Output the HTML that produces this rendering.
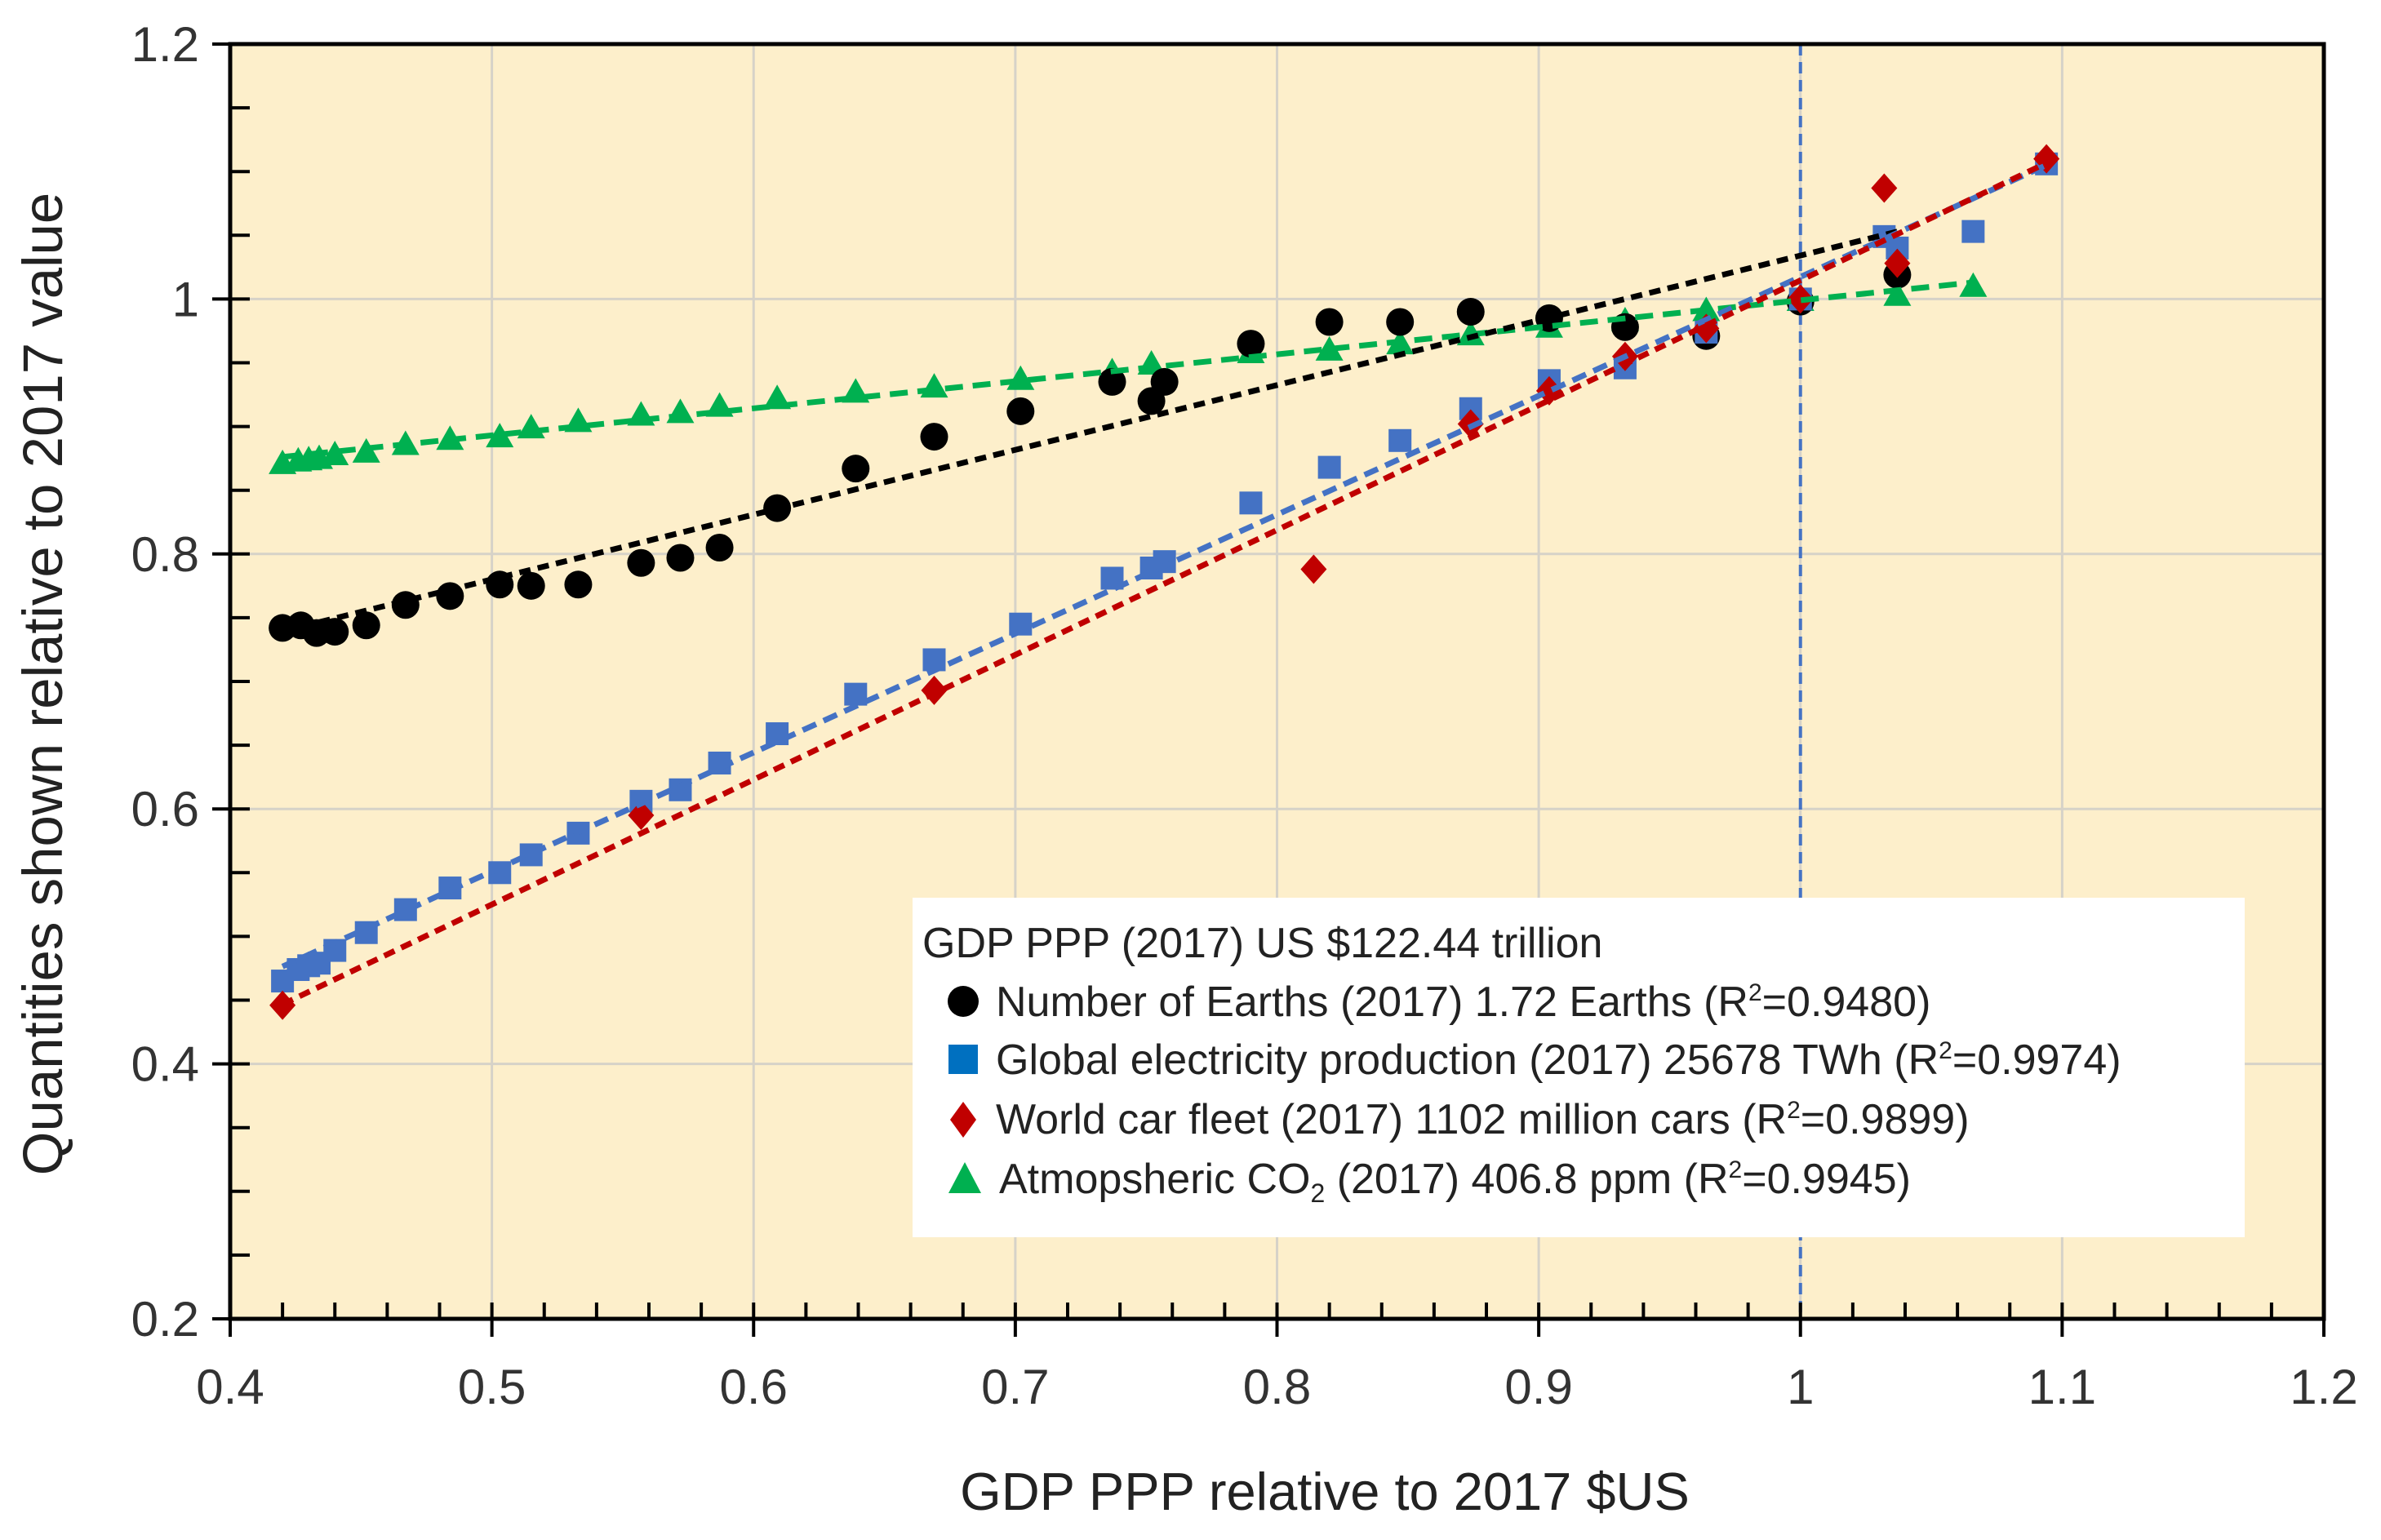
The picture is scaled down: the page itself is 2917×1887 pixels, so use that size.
<!DOCTYPE html>
<html><head><meta charset="utf-8"><style>
html,body{margin:0;padding:0;background:#fff;}
svg{display:block;font-family:"Liberation Sans",sans-serif;}
</style></head><body>
<svg id="chart" width="2917" height="1887" viewBox="0 0 2917 1887" xmlns="http://www.w3.org/2000/svg"></svg>
<script>
const xTicks=[0.4,0.5,0.6,0.7,0.8,0.9,1,1.1,1.2];
const xTickLabels=["0.4","0.5","0.6","0.7","0.8","0.9","1","1.1","1.2"];
const yTicks=[0.2,0.4,0.6,0.8,1,1.2];
const yTickLabels=["0.2","0.4","0.6","0.8","1","1.2"];
const earthsX=[0.420,0.427,0.433,0.440,0.452,0.467,0.484,0.503,0.515,0.533,0.557,0.572,0.587,0.609,0.639,0.669,0.702,0.737,0.752,0.757,0.790,0.820,0.847,0.874,0.904,0.933,0.964,1.000,1.037];
const earthsY=[0.742,0.744,0.738,0.739,0.744,0.760,0.767,0.776,0.775,0.776,0.793,0.797,0.805,0.836,0.867,0.892,0.912,0.935,0.920,0.935,0.965,0.982,0.982,0.990,0.985,0.978,0.971,0.998,1.019];
const elecX=[0.420,0.426,0.430,0.434,0.440,0.452,0.467,0.484,0.503,0.515,0.533,0.557,0.572,0.587,0.609,0.639,0.669,0.702,0.737,0.752,0.757,0.790,0.820,0.847,0.874,0.904,0.933,0.964,1.000,1.032,1.037,1.066,1.094];
const elecY=[0.465,0.474,0.477,0.479,0.489,0.503,0.521,0.538,0.550,0.564,0.581,0.606,0.615,0.636,0.659,0.690,0.717,0.745,0.781,0.789,0.794,0.840,0.868,0.889,0.914,0.936,0.946,0.974,1.000,1.049,1.040,1.053,1.106];
const carsX=[0.420,0.557,0.669,0.814,0.874,0.904,0.933,0.964,1.000,1.032,1.037,1.094];
const carsY=[0.446,0.595,0.693,0.788,0.902,0.928,0.955,0.977,1.000,1.087,1.028,1.110];
const co2X=[0.420,0.426,0.430,0.434,0.440,0.452,0.467,0.484,0.503,0.515,0.533,0.557,0.572,0.587,0.609,0.639,0.669,0.702,0.737,0.752,0.790,0.820,0.847,0.874,0.904,0.933,0.964,1.000,1.037,1.066];
const co2Y=[0.871,0.873,0.874,0.875,0.878,0.880,0.886,0.890,0.892,0.899,0.904,0.909,0.911,0.916,0.922,0.927,0.931,0.937,0.943,0.949,0.958,0.960,0.965,0.972,0.978,0.983,0.991,0.999,1.003,1.010];

const L=282,R=2847,T=54,B=1616;
const X0=0.4,X1=1.2,Y0=0.2,Y1=1.2;
const sx=v=>L+(v-X0)/(X1-X0)*(R-L);
const sy=v=>B-(v-Y0)/(Y1-Y0)*(B-T);
const NS="http://www.w3.org/2000/svg";
const svg=document.getElementById('chart');
function mk(tag,attrs,parent){const e=document.createElementNS(NS,tag);for(const k in attrs)e.setAttribute(k,attrs[k]);(parent||svg).appendChild(e);return e;}

const bg=mk('rect',{x:L,y:T,width:R-L,height:B-T,fill:'#fdefcb'});


xTicks.forEach((t,i)=>{if(i>0&&i<xTicks.length-1){const g=mk('line',{x1:sx(t),x2:sx(t),y1:T,y2:B,stroke:'#d6d2c8','stroke-width':3});

}});
yTicks.forEach((t,i)=>{if(i>0&&i<yTicks.length-1){const g=mk('line',{x1:L,x2:R,y1:sy(t),y2:sy(t),stroke:'#d6d2c8','stroke-width':3});

}});
const ref=mk('line',{x1:sx(1),x2:sx(1),y1:T,y2:B,stroke:'#4472c4','stroke-width':4,'stroke-dasharray':'14,8'});



function fit(xs,ys){const n=xs.length;let mx=0,my=0;for(let i=0;i<n;i++){mx+=xs[i];my+=ys[i];}mx/=n;my/=n;let sxy=0,sxx=0;for(let i=0;i<n;i++){sxy+=(xs[i]-mx)*(ys[i]-my);sxx+=(xs[i]-mx)**2;}const b=sxy/sxx;return [b,my-b*mx];}
function trend(xs,ys,color,dash,name){const [b,a]=fit(xs,ys);const x1=Math.min(...xs),x2=Math.max(...xs);
const ln=mk('line',{x1:sx(x1),y1:sy(a+b*x1),x2:sx(x2),y2:sy(a+b*x2),stroke:color,'stroke-width':7,'stroke-dasharray':dash});

}

function marker(shape,cx,cy,color,g){
 if(shape==='circle')return mk('circle',{cx:cx,cy:cy,r:17,fill:color},g);
 if(shape==='square')return mk('rect',{x:cx-14,y:cy-14,width:28,height:28,fill:color},g);
 if(shape==='diamond')return mk('polygon',{points:`${cx},${cy-18} ${cx+16},${cy} ${cx},${cy+18} ${cx-16},${cy}`,fill:color},g);
 return mk('polygon',{points:`${cx},${cy-17} ${cx+17},${cy+13} ${cx-17},${cy+13}`,fill:color},g);
}
function series(xs,ys,shape,color,name){const g=mk('g',{});


for(let i=0;i<xs.length;i++){const m=marker(shape,sx(xs[i]),sy(ys[i]),color,g);

}}

series(co2X,co2Y,'triangle','#00b050','co2-series');
series(earthsX,earthsY,'circle','#000000','earths-series');
series(elecX,elecY,'square','#4472c4','electricity-series');
series(carsX,carsY,'diamond','#c00000','cars-series');
trend(co2X,co2Y,'#00b050','22,12','co2-trendline');
trend(earthsX,earthsY,'#000000','14,9','earths-trendline');
trend(elecX,elecY,'#4472c4','18,10','electricity-trendline');
trend(carsX,carsY,'#c00000','14,9','cars-trendline');

const fr=mk('rect',{x:L,y:T,width:R-L,height:B-T,fill:'none',stroke:'#000','stroke-width':5});


for(let v=0.42;v<1.2;v+=0.02){const m=mk('line',{x1:sx(v),x2:sx(v),y1:B,y2:B-20,stroke:'#000','stroke-width':4});

}
xTicks.forEach((t,i)=>{const m=mk('line',{x1:sx(t),x2:sx(t),y1:B,y2:B+22,stroke:'#000','stroke-width':4});


const tx=mk('text',{x:sx(t),y:B+104,'font-size':60,fill:'#333','text-anchor':'middle'});tx.textContent=xTickLabels[i];

});
for(let v=0.25;v<1.2;v+=0.05){const m=mk('line',{x1:L,x2:L+24,y1:sy(v),y2:sy(v),stroke:'#000','stroke-width':4});

}
yTicks.forEach((t,i)=>{const m=mk('line',{x1:L-22,x2:L,y1:sy(t),y2:sy(t),stroke:'#000','stroke-width':4});


const tx=mk('text',{x:L-38,y:sy(t)+21,'font-size':60,fill:'#333','text-anchor':'end'});tx.textContent=yTickLabels[i];

});
</script>
<svg style="position:absolute;left:0;top:0" width="2917" height="1887" xmlns="http://www.w3.org/2000/svg" font-family="Liberation Sans, sans-serif">
<text x="1623" y="1850" font-size="65" fill="#222" text-anchor="middle">GDP PPP relative to 2017 $US</text>
<text transform="translate(76,838) rotate(-90)" font-size="69" fill="#222" text-anchor="middle">Quantities shown relative to 2017 value</text>
<g>
<rect x="1118" y="1100" width="1632" height="416" fill="#ffffff"/>
<text x="1130" y="1173" font-size="52" fill="#222">GDP PPP (2017) US $122.44 trillion</text>
<g><circle cx="1180" cy="1227" r="19" fill="#000"/><text x="1220" y="1245" font-size="52" fill="#222">Number of Earths (2017) 1.72 Earths (R<tspan font-size="30" dy="-19">2</tspan><tspan dy="19">=0.9480)</tspan></text></g>
<g><rect x="1162" y="1280" width="36" height="36" fill="#0070c0"/><text x="1220" y="1316" font-size="52" fill="#222">Global electricity production (2017) 25678 TWh (R<tspan font-size="30" dy="-19">2</tspan><tspan dy="19">=0.9974)</tspan></text></g>
<g><polygon points="1180,1350 1196,1372 1180,1394 1164,1372" fill="#c00000"/><text x="1220" y="1389" font-size="52" fill="#222">World car fleet (2017) 1102 million cars (R<tspan font-size="30" dy="-19">2</tspan><tspan dy="19">=0.9899)</tspan></text></g>
<g><polygon points="1182,1424 1202,1462 1162,1462" fill="#00b050"/><text x="1224" y="1462" font-size="52" fill="#222">Atmopsheric CO<tspan font-size="32" dy="11">2</tspan><tspan dy="-11"> (2017) 406.8 ppm (R</tspan><tspan font-size="30" dy="-19">2</tspan><tspan dy="19">=0.9945)</tspan></text></g>
</g>
</svg>
</body></html>
